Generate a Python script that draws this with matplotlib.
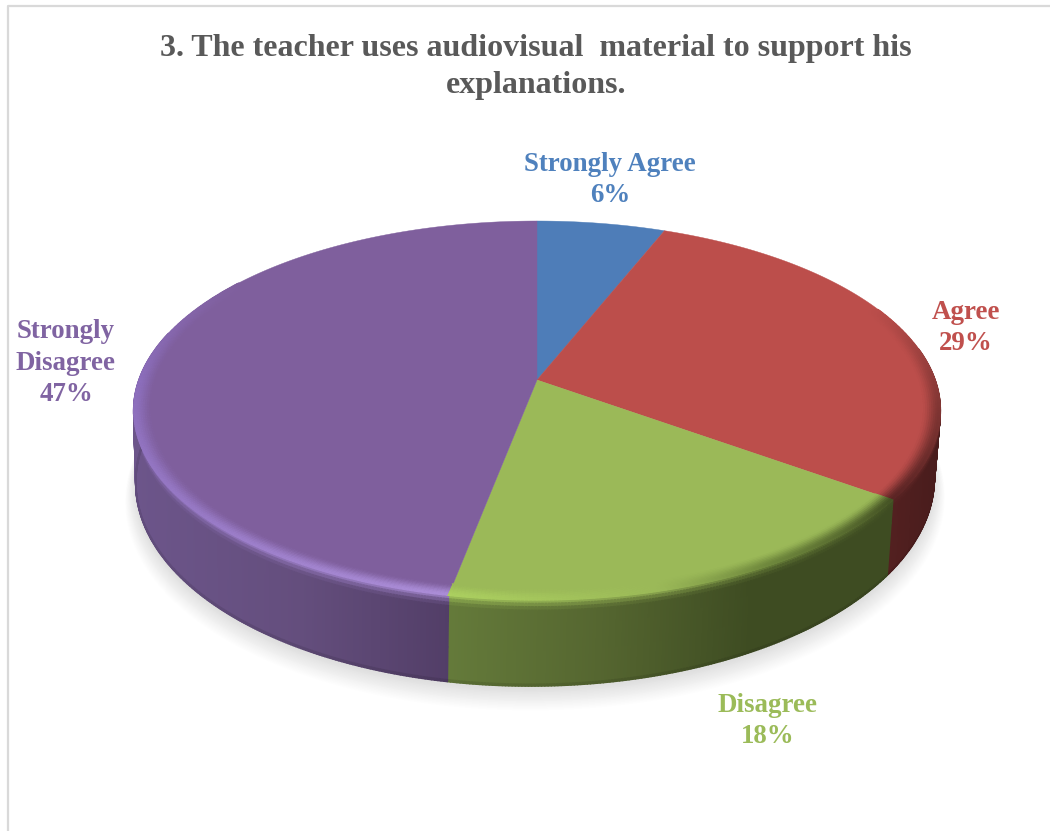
import numpy as np
import matplotlib
matplotlib.use("Agg")
import matplotlib.pyplot as plt
from matplotlib.collections import PolyCollection

title = "3. The teacher uses audiovisual  material to support his\nexplanations."
categories = ["Strongly Agree", "Agree", "Disagree", "Strongly\nDisagree"]
values = [6, 29, 18, 47]
colors = ["#4f81bd", "#c0504d", "#9bbb59", "#8064a2"]
top_colors = ["#4e7db8", "#bc4e4b", "#9bb958", "#7f5f9d"]
label_pos = [(610, 180), (966, 328), (768, 721), (66, 363)]

CX, CY = 537.0, 380.0
R, S, K = 398.0, 184.6, 0.161
SX, SY, D, BX = 0.99, 1.084, 67.5, -2.0

plt.rcParams["font.family"] = ["Liberation Serif", "DejaVu Serif"]
fig = plt.figure(figsize=(10.5, 8.31), dpi=100)
ax = fig.add_axes([0, 0, 1, 1])
ax.set_xlim(0, 1050)
ax.set_ylim(831, 0)
ax.axis("off")


def project(theta, r=1.0, z=0.0):
    t = np.radians(theta)
    x, y = r * np.sin(t), r * np.cos(t)
    w = 1 + K * y
    X, Y = R * x / w, S * y / w
    return (CX + X * (1 + (SX - 1) * z) + BX * z,
            CY - Y * (1 + (SY - 1) * z) + D * z - 0.006 * X * z)


def rgb(h):
    return np.array(matplotlib.colors.to_rgb(h))


def table(xs, cols, q):
    cols = np.array(cols, float) / 255
    return np.array([np.interp(q, xs, cols[:, i]) for i in range(3)])


edges = np.concatenate([[0], np.cumsum(values)]) * 360.0 / sum(values)

# per-slice shading: side colour by screen x, rim colour by angle
side_tab = {
    1: ([880, 940], [(85, 33, 33), (72, 28, 28)]),
    2: ([452, 600, 750, 885], [(100, 122, 58), (85, 102, 48), (62, 76, 34), (62, 76, 34)]),
    3: ([135, 300, 450], [(108, 85, 138), (100, 78, 125), (82, 62, 103)]),
}
rim_tab = {
    1: ([65, 100, 126], [(188, 78, 75), (125, 52, 50), (90, 36, 36)]),
    2: ([126, 150, 165, 191], [(68, 82, 36), (110, 135, 60), (155, 185, 88), (172, 208, 96)]),
    3: ([191, 230, 270, 305], [(172, 142, 216), (152, 122, 198), (140, 110, 188), (127, 95, 157)]),
}


def slice_of(th):
    return int(np.searchsorted(edges, th, side="right") - 1)


# soft ground shadow
th = np.linspace(0, 360, 361)
for i in range(14, -1, -1):
    level = 0.875 + i * 0.0085
    px, py = project(th, r=1.0 + 0.0018 * i, z=1.0)
    ax.fill(px, py + 3 + 1.0 * i, color=(level, level, level), lw=0, zorder=1)

# side wall
polys, cols = [], []
zs = np.array([0, 0.04, 0.08, 0.12, 0.3, 0.6, 0.98, 1.0])
dth = 0.4
for a in np.arange(80, 285, dth):
    s = slice_of(a + dth / 2)
    if s == 0:
        continue
    for z0, z1 in zip(zs[:-1], zs[1:]):
        x0, y0 = project(a, z=z0)
        x1, y1 = project(a + dth, z=z0)
        x2, y2 = project(a + dth, z=z1)
        x3, y3 = project(a, z=z1)
        polys.append([(x0, y0), (x1, y1), (x2, y2), (x3, y3)])
        side = table(*side_tab[s], (x0 + x1) / 2)
        rim = table(*rim_tab[s], a + dth / 2)
        zm = (z0 + z1) / 2
        if zm < 0.12:
            c = rim + (side - rim) * (zm / 0.12) ** 0.7
        elif zm > 0.98:
            c = side * 0.9
        else:
            c = side
        cols.append(np.clip(c, 0, 1))
ax.add_collection(PolyCollection(polys, facecolors=cols, edgecolors=cols, linewidths=1.2, zorder=2))

# top face slices
for i, (a0, a1) in enumerate(zip(edges[:-1], edges[1:])):
    t = np.arange(a0, a1 + 0.25, 0.5)
    t[-1] = a1
    px, py = project(t)
    ax.fill(np.r_[CX, px], np.r_[CY, py], color=top_colors[i], lw=0.3, zorder=3)

# bevel on the rim of the top face
polys, cols = [], []
rs = np.linspace(0.955, 1.0, 10)
dth = 0.5
for a in np.arange(66, 305, dth):
    s = slice_of(a + dth / 2)
    if s == 0:
        continue
    top = rgb(top_colors[s])
    rim = table(*rim_tab[s], a + dth / 2)
    for r0, r1 in zip(rs[:-1], rs[1:]):
        x0, y0 = project(a, r=r0)
        x1, y1 = project(a + dth, r=r0)
        x2, y2 = project(a + dth, r=r1)
        x3, y3 = project(a, r=r1)
        polys.append([(x0, y0), (x1, y1), (x2, y2), (x3, y3)])
        u = ((r0 + r1) / 2 - rs[0]) / (rs[-1] - rs[0])
        u = u * u * (3 - 2 * u)
        cols.append(np.clip(top + (rim - top) * u, 0, 1))
ax.add_collection(PolyCollection(polys, facecolors=cols, edgecolors=cols, linewidths=0.9, zorder=4))

# chart frame
ax.plot([8, 8, 1050], [831, 5.5, 5.5], color="#d9d9d9", lw=1.6, zorder=0)

# text
ax.text(536, 67, title, ha="center", va="center", fontsize=23, fontweight="bold",
        color="#595959", linespacing=1.36, zorder=6)
for cat, v, c, (lx, ly) in zip(categories, values, colors, label_pos):
    ax.text(lx, ly, f"{cat}\n{v}%", ha="center", va="center", fontsize=19.4,
            fontweight="bold", color=c, linespacing=1.33, zorder=6)

fig.savefig("out.png", dpi=100, facecolor="white")
